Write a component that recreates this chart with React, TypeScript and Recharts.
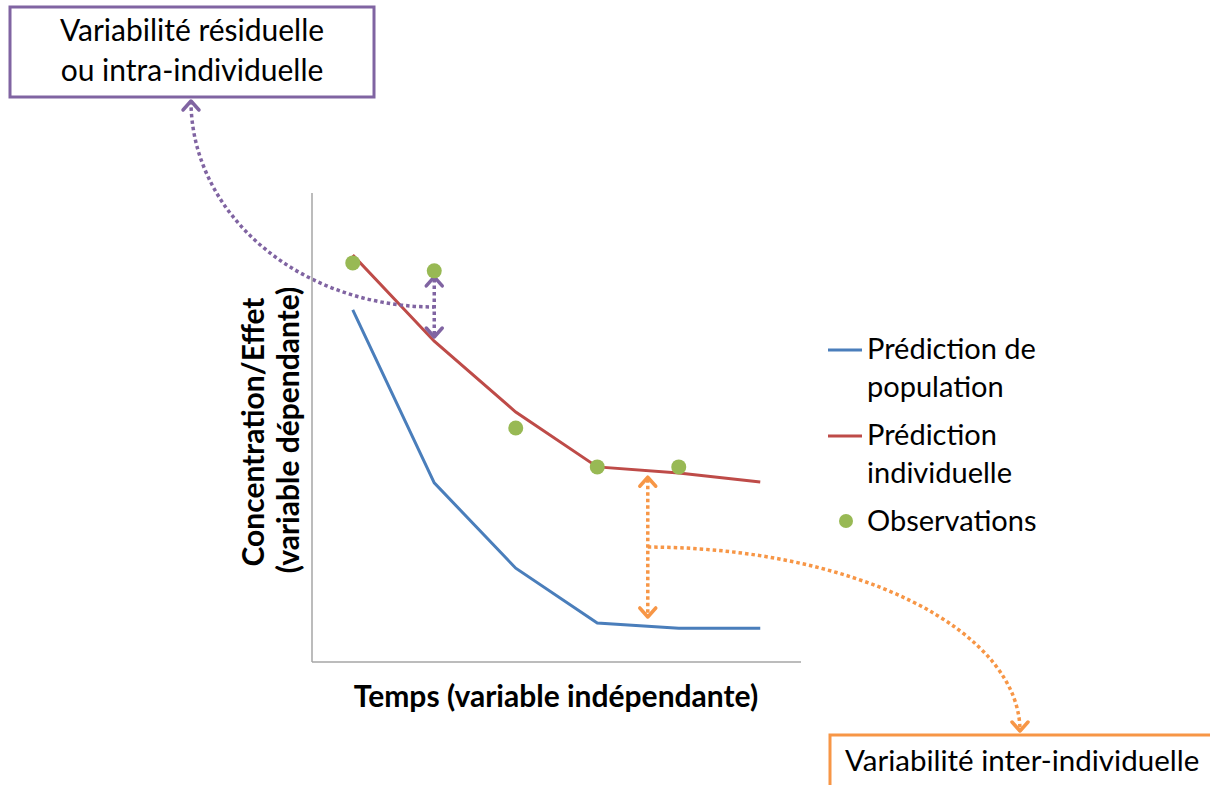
import { ComposedChart, Line, XAxis, YAxis, ReferenceLine } from "recharts";

// sampling times (arbitrary units) and the three series (0-100 scale)
const times = [1, 2, 3, 4, 5, 6];
const population = [75.1, 38.2, 20.0, 8.3, 7.2, 7.2];
const individual = [86.8, 68.4, 53.3, 41.6, 40.3, 38.4];
const observations = [85.1, 83.4, 49.9, 41.6, 41.6, null];

// annotation arrows: x position and the two tip values
const residualArrow = { x: 2, top: 82.1, bottom: 69.3 };
const interArrow = { x: 4.62, top: 39.4, bottom: 9.6 };

const legendItems = [
  { lines: ["Prédiction de", "population"], color: "#4A7EBB", kind: "line" },
  { lines: ["Prédiction", "individuelle"], color: "#BE4B48", kind: "line" },
  { lines: ["Observations"], color: "#98B954", kind: "dot" },
];

const PURPLE = "#8064A2";
const ORANGE = "#F79646";
const AXIS = "#A6A6A6";
const FONT = "Lato, 'Open Sans', sans-serif";

const data = times.map((t, i) => ({
  t,
  pop: population[i],
  ind: individual[i],
  obs: observations[i],
}));

const chevron = (x: number, y: number, dir: "up" | "down") => {
  const d = dir === "up" ? 9 : -9;
  return `M${x - 8},${y + d} L${x},${y} L${x + 8},${y + d}`;
};

// double-headed dotted arrow, plus the curved leader toward its label box
function arrowShape(color: string, leader: (mx: number, my: number) => string) {
  return (props: any) => {
    const x = props.x1;
    const top = Math.min(props.y1, props.y2);
    const bottom = Math.max(props.y1, props.y2);
    const mid = (top + bottom) / 2;
    const common = { fill: "none", stroke: color, strokeWidth: 3.5 };
    return (
      <g>
        <path d={`M${x},${top + 2} L${x},${bottom - 2}`} {...common} strokeDasharray="3.5 3" />
        <path d={chevron(x, top, "up")} {...common} strokeLinejoin="round" strokeLinecap="round" />
        <path d={chevron(x, bottom, "down")} {...common} strokeLinejoin="round" strokeLinecap="round" />
        <path d={leader(x, mid)} {...common} strokeDasharray="3.5 3" />
      </g>
    );
  };
}

// leader from the purple box (arrow tip under it) to the residual arrow
const residualLeader = (mx: number, my: number) => {
  const sx = 191;
  const sy = 101;
  return `M${sx},${sy} A${mx - sx},${my - sy} 0 0 0 ${mx},${my}`;
};

// leader from the inter-individual arrow to the orange box
const interLeader = (mx: number, my: number) => {
  const ex = 1020;
  const ey = 731;
  return `M${mx},${my} A${ex - mx},${ey - my} 0 0 1 ${ex},${ey}`;
};

export default function App() {
  return (
    <div style={{ position: "absolute", left: 0, top: 0, width: 1210, height: 785, overflow: "hidden", background: "#fff" }}>
      <ComposedChart
        width={1210}
        height={785}
        data={data}
        margin={{ top: 193, right: 409, bottom: 122, left: 311 }}
      >
        <XAxis
          dataKey="t"
          type="number"
          domain={[0.5, 6.5]}
          height={1}
          tick={false}
          tickLine={false}
          axisLine={{ stroke: AXIS, strokeWidth: 1.5 }}
        />
        <YAxis
          domain={[0, 100]}
          width={1}
          tick={false}
          tickLine={false}
          axisLine={{ stroke: AXIS, strokeWidth: 1.5 }}
        />
        <Line dataKey="pop" stroke="#4A7EBB" strokeWidth={3} dot={false} isAnimationActive={false} />
        <Line dataKey="ind" stroke="#BE4B48" strokeWidth={3} dot={false} isAnimationActive={false} />
        <Line
          dataKey="obs"
          stroke="none"
          dot={{ r: 7.5, fill: "#98B954", stroke: "none" }}
          activeDot={false}
          isAnimationActive={false}
        />
        <ReferenceLine
          segment={[
            { x: residualArrow.x, y: residualArrow.top },
            { x: residualArrow.x, y: residualArrow.bottom },
          ]}
          ifOverflow="visible"
          shape={arrowShape(PURPLE, residualLeader)}
        />
        <ReferenceLine
          segment={[
            { x: interArrow.x, y: interArrow.top },
            { x: interArrow.x, y: interArrow.bottom },
          ]}
          ifOverflow="visible"
          shape={arrowShape(ORANGE, interLeader)}
        />
      </ComposedChart>

      <svg
        width={1210}
        height={785}
        style={{ position: "absolute", left: 0, top: 0, pointerEvents: "none" }}
        fontFamily={FONT}
      >
        {/* axis titles */}
        <text x={556} y={707} textAnchor="middle" fontSize={30} fontWeight={700} fill="#000">
          Temps (variable indépendante)
        </text>
        <text transform="translate(264,432) rotate(-90)" textAnchor="middle" fontSize={30} fontWeight={700} fill="#000">
          Concentration/Effet
        </text>
        <text transform="translate(299,430) rotate(-90)" textAnchor="middle" fontSize={30} fontWeight={700} fill="#000">
          (variable dépendante)
        </text>

        {/* legend */}
        {legendItems.map((item, i) => {
          const base = [359, 445, 531][i];
          return (
            <g key={item.lines[0]}>
              {item.kind === "line" ? (
                <line x1={828} x2={862} y1={base - 9} y2={base - 9} stroke={item.color} strokeWidth={3} />
              ) : (
                <circle cx={846} cy={base - 10} r={7} fill={item.color} />
              )}
              {item.lines.map((l, j) => (
                <text key={l} x={867} y={base + j * 38} fontSize={29} fill="#000">
                  {l}
                </text>
              ))}
            </g>
          );
        })}

        {/* residual variability box */}
        <rect x={10} y={7} width={364} height={90} fill="#fff" stroke={PURPLE} strokeWidth={3} />
        <text x={192} y={41} textAnchor="middle" fontSize={30} fill="#000">
          Variabilité résiduelle
        </text>
        <text x={192} y={81} textAnchor="middle" fontSize={30} fill="#000">
          ou intra-individuelle
        </text>
        <path d={chevron(191, 101, "up")} fill="none" stroke={PURPLE} strokeWidth={3.5} strokeLinejoin="round" strokeLinecap="round" />

        {/* inter-individual variability box */}
        <rect x={830} y={735} width={420} height={100} fill="#fff" stroke={ORANGE} strokeWidth={3} />
        <text x={845} y={771} fontSize={29.5} fill="#000">
          Variabilité inter-individuelle
        </text>
        <path d={chevron(1020, 731, "down")} fill="none" stroke={ORANGE} strokeWidth={3.5} strokeLinejoin="round" strokeLinecap="round" />
      </svg>
    </div>
  );
}
